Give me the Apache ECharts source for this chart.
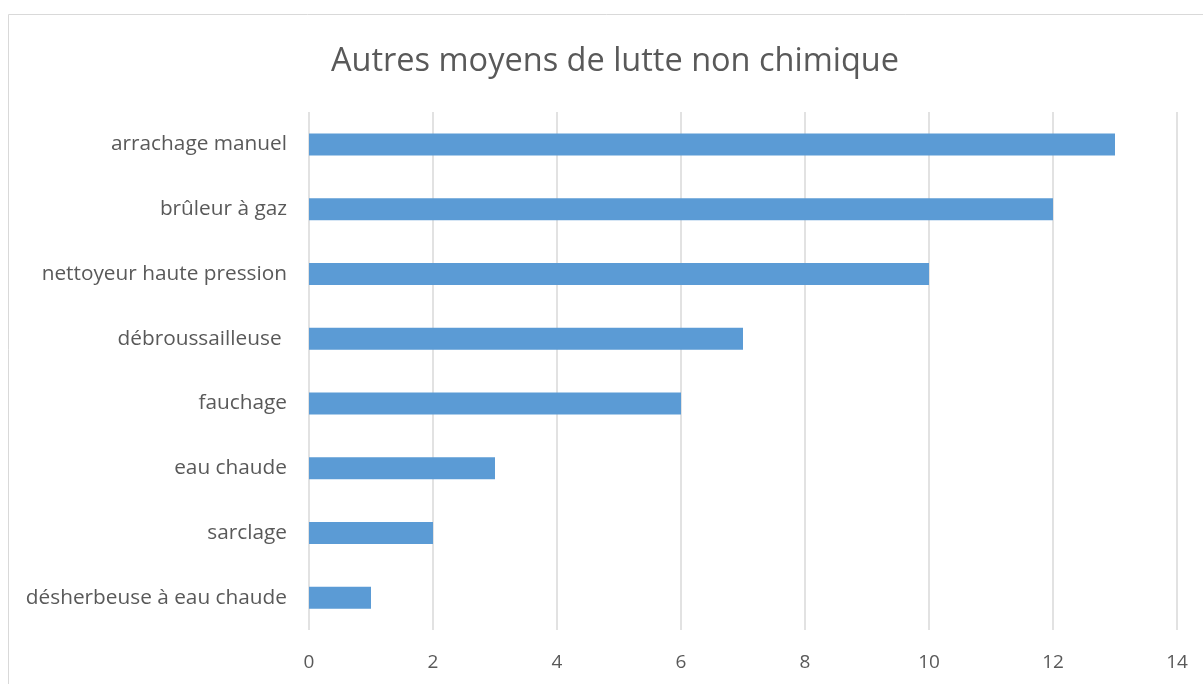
<!DOCTYPE html>
<html>
<head>
<meta charset="utf-8">
<script src="https://cdn.jsdelivr.net/npm/echarts@6/dist/echarts.min.js"></script>
<style>
    html, body { margin: 0; padding: 0; background: #fff; }
    #chart { width: 1203px; height: 684px; }
</style>
</head>
<body>
<div id="chart"></div>
<script>
// categories listed bottom to top
var categories = ['désherbeuse à eau chaude', 'sarclage', 'eau chaude', 'fauchage',
    'débroussailleuse ', 'nettoyeur haute pression', 'brûleur à gaz', 'arrachage manuel'];
var values = [1, 2, 3, 6, 7, 10, 12, 13];
var xTicks = [0, 2, 4, 6, 8, 10, 12, 14];

var myChart = echarts.init(document.getElementById('chart'));
var option = {
    animation: false,
    textStyle: { fontFamily: 'Open Sans' },
    graphic: [{
        type: 'rect',
        shape: { x: 8.5, y: 14.5, width: 1300, height: 800 },
        style: { fill: 'none', stroke: '#d9d9d9', lineWidth: 1 },
        silent: true
    }],
    title: {
        text: 'Autres moyens de lutte non chimique',
        left: 326,
        top: 40,
        textStyle: { fontSize: 32.5, fontWeight: 'normal', color: '#595959', fontFamily: 'Open Sans' }
    },
    grid: { left: 309, right: 26, top: 112, bottom: 54 },
    xAxis: {
        type: 'value',
        min: xTicks[0],
        max: xTicks[xTicks.length - 1],
        interval: 2,
        axisLine: { show: false },
        axisTick: { show: false },
        splitLine: { lineStyle: { color: '#d9d9d9', width: 1.5 } },
        axisLabel: { color: '#595959', fontSize: 19, margin: 23 }
    },
    yAxis: {
        type: 'category',
        data: categories,
        axisLine: { show: false },
        axisTick: { show: false },
        axisLabel: { color: '#595959', fontSize: 20.8, margin: 22 }
    },
    series: [{
        type: 'bar',
        data: values,
        barWidth: 22,
        itemStyle: { color: '#5b9bd5' }
    }]
};
myChart.setOption(option);
</script>
</body>
</html>
